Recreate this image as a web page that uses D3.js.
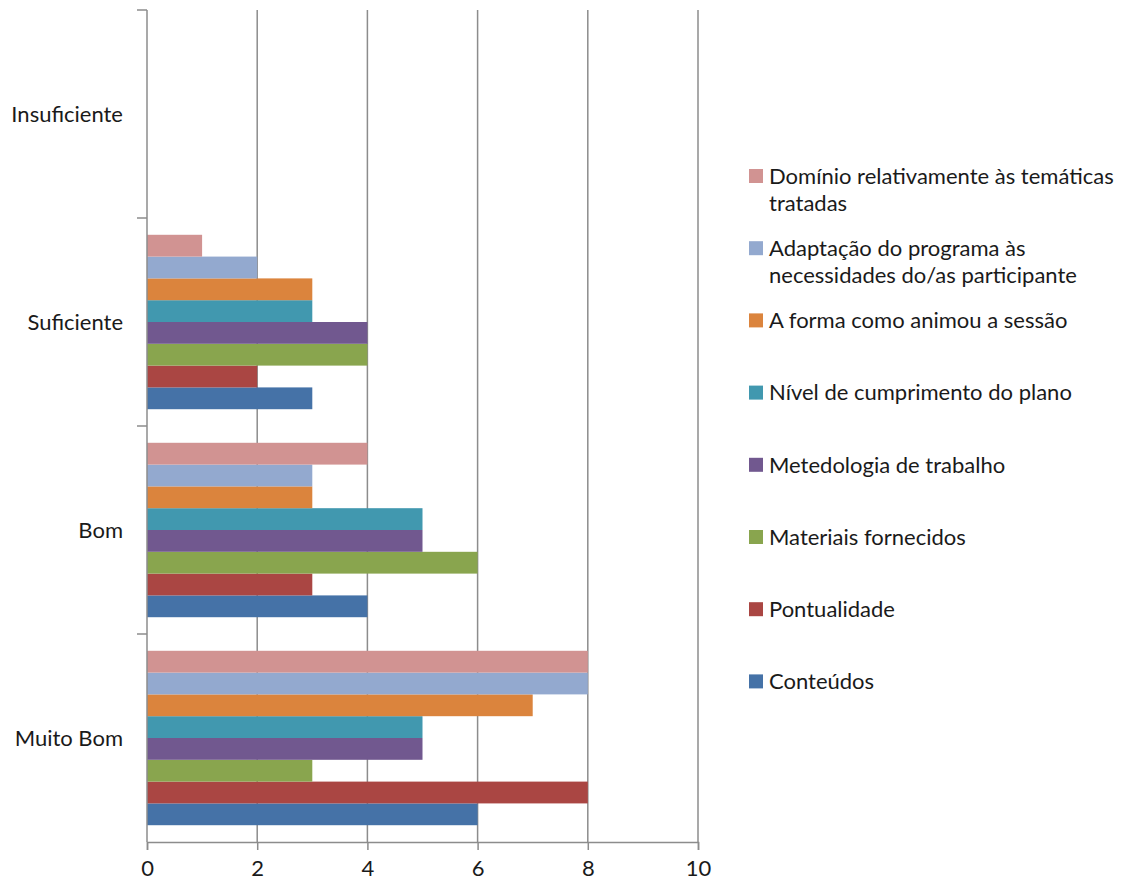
<!DOCTYPE html>
<html>
<head>
<meta charset="utf-8">
<script src="https://cdn.jsdelivr.net/npm/d3@7"></script>
<style>
  body { margin: 0; background: #fff; }
  svg text { font-family: Lato, "Open Sans", sans-serif; fill: #1a1a1a; }
</style>
</head>
<body>
<div id="chart"></div>
<script>
// categories, top to bottom
var categories = ["Insuficiente", "Suficiente", "Bom", "Muito Bom"];

// series, bottom bar first (same order Excel uses)
var seriesNames = [
  "Conteúdos",
  "Pontualidade",
  "Materiais fornecidos",
  "Metedologia de trabalho",
  "Nível de cumprimento do plano",
  "A forma como animou a sessão",
  "Adaptação do programa às necessidades do/as participante",
  "Domínio relativamente às temáticas tratadas"
];
var seriesColors = ["#4572A7", "#AA4643", "#89A54E", "#71588F", "#4198AF", "#DB843D", "#93A9CF", "#D19392"];

// values per category, in the seriesNames order
var insuficiente = [0, 0, 0, 0, 0, 0, 0, 0];
var suficiente   = [3, 2, 4, 4, 3, 3, 2, 1];
var bom          = [4, 3, 6, 5, 5, 3, 3, 4];
var muitoBom     = [6, 8, 3, 5, 5, 7, 8, 8];
var values = [insuficiente, suficiente, bom, muitoBom];

var xTicks = [0, 2, 4, 6, 8, 10];

// legend entries, top to bottom, already broken into lines
var legendLines = [
  ["Domínio relativamente às temáticas", "tratadas"],
  ["Adaptação do programa às", "necessidades do/as participante"],
  ["A forma como animou a sessão"],
  ["Nível de cumprimento do plano"],
  ["Metedologia de trabalho"],
  ["Materiais fornecidos"],
  ["Pontualidade"],
  ["Conteúdos"]
];

var width = 1128, height = 885;
var margin = { left: 147, top: 10, right: 430, bottom: 43 };
var fontSize = 22;

var svg = d3.select("#chart").append("svg")
  .attr("width", width)
  .attr("height", height);

var x = d3.scaleLinear()
  .domain([0, 10])
  .range([margin.left, width - margin.right]);

var y = d3.scaleBand()
  .domain(categories)
  .range([margin.top, height - margin.bottom]);

// bars inside each category, top bar = last series
var yInner = d3.scaleBand()
  .domain(d3.range(seriesNames.length).reverse())
  .range([0, y.bandwidth()])
  .paddingOuter(0.77);

// vertical grid lines
svg.append("g")
  .selectAll("line")
  .data(xTicks.slice(1))
  .enter().append("line")
    .attr("x1", function (d) { return x(d); })
    .attr("x2", function (d) { return x(d); })
    .attr("y1", margin.top)
    .attr("y2", height - margin.bottom)
    .attr("stroke", "#8c8c8c")
    .attr("stroke-width", 1.5);

// bars
var groups = svg.append("g")
  .selectAll("g")
  .data(categories)
  .enter().append("g")
    .attr("transform", function (d) { return "translate(0," + y(d) + ")"; });

groups.selectAll("rect")
  .data(function (d, i) {
    return values[i].map(function (v, k) { return { k: k, v: v }; });
  })
  .enter().append("rect")
    .filter(function (d) { return d.v > 0; })
    .attr("x", x(0))
    .attr("y", function (d) { return yInner(d.k); })
    .attr("width", function (d) { return x(d.v) - x(0); })
    .attr("height", yInner.bandwidth())
    .attr("fill", function (d) { return seriesColors[d.k]; });

// x axis
var xAxis = svg.append("g")
  .attr("transform", "translate(0," + (height - margin.bottom) + ")")
  .call(d3.axisBottom(x).tickValues(xTicks).tickSize(8).tickPadding(10));
xAxis.select(".domain").attr("stroke", "#8c8c8c").attr("stroke-width", 1.5);
xAxis.selectAll(".tick line").attr("stroke", "#8c8c8c").attr("stroke-width", 1.5);
xAxis.selectAll("text").attr("font-size", fontSize).attr("fill", "#1a1a1a");

// y axis: ticks on category boundaries, labels centered in bands
var yAxisG = svg.append("g");
yAxisG.append("line")
  .attr("x1", x(0)).attr("x2", x(0))
  .attr("y1", margin.top).attr("y2", height - margin.bottom)
  .attr("stroke", "#8c8c8c").attr("stroke-width", 1.5);
yAxisG.selectAll("line.tick")
  .data(categories)
  .enter().append("line")
    .attr("class", "tick")
    .attr("x1", x(0) - 10).attr("x2", x(0))
    .attr("y1", function (d) { return y(d); })
    .attr("y2", function (d) { return y(d); })
    .attr("stroke", "#8c8c8c").attr("stroke-width", 1.5);
yAxisG.selectAll("text")
  .data(categories)
  .enter().append("text")
    .attr("x", x(0) - 24)
    .attr("y", function (d) { return y(d) + y.bandwidth() / 2; })
    .attr("dy", "0.35em")
    .attr("text-anchor", "end")
    .attr("font-size", fontSize)
    .text(function (d) { return d; });

// legend
var legendX = 749, legendY = 176, legendStep = 72.2, lineH = 27;
var legend = svg.append("g")
  .selectAll("g")
  .data(legendLines)
  .enter().append("g")
    .attr("transform", function (d, i) { return "translate(" + legendX + "," + (legendY + i * legendStep) + ")"; });

legend.append("rect")
  .attr("x", 0).attr("y", -7)
  .attr("width", 14).attr("height", 14)
  .attr("fill", function (d, i) { return seriesColors[seriesNames.length - 1 - i]; });

legend.append("text")
  .attr("font-size", fontSize)
  .selectAll("tspan")
  .data(function (d) { return d; })
  .enter().append("tspan")
    .attr("x", 20)
    .attr("y", function (d, j) { return j * lineH; })
    .attr("dy", "0.35em")
    .text(function (d) { return d; });
</script>
</body>
</html>
